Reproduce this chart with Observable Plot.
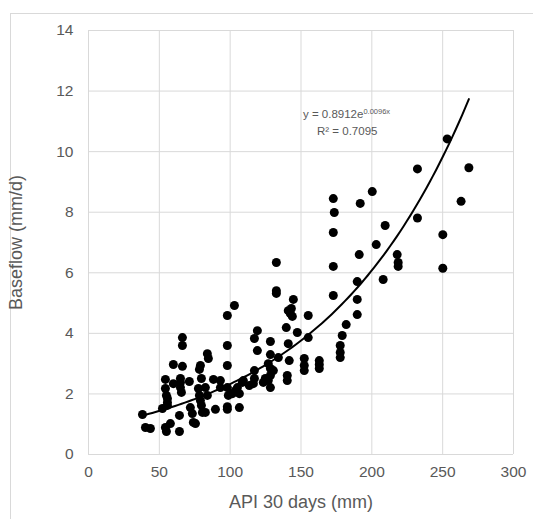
<!DOCTYPE html>
<html>
<head>
<meta charset="utf-8">
<script src="https://cdn.jsdelivr.net/npm/d3@7"></script>
<script src="https://cdn.jsdelivr.net/npm/@observablehq/plot@0.6"></script>
<style>
  html, body { margin: 0; padding: 0; background: #fff; }
  #wrap { position: relative; width: 533px; height: 519px; overflow: hidden; }
  #border { position: absolute; left: 10px; top: 13px; width: 600px; height: 600px;
            border-left: 1px solid #d9d9d9; border-top: 1px solid #d9d9d9; }
  #chart { position: absolute; left: 0; top: 0; }
</style>
</head>
<body>
<div id="wrap"><div id="border"></div><div id="chart"></div></div>
<script>
// API 30 days (mm)
const api = [
  38.1, 40.2, 43.7, 54.3, 55.0, 57.8, 64.2, 64.2, 52.2, 55.0,
  55.7, 55.7, 55.7, 54.3, 54.3, 59.9, 59.9, 66.3, 64.9, 64.9,
  64.9, 65.6, 71.2, 66.3, 66.3, 73.3, 74.0, 75.5, 71.9, 79.7,
  78.3, 79.0, 83.9, 84.6, 77.6, 78.3, 79.0, 79.7, 80.4, 82.5,
  83.9, 88.2, 89.6, 82.5, 98.0, 98.0, 106.5, 93.1, 93.1, 98.0,
  103.0, 98.0, 98.0, 98.0, 98.7, 101.6, 103.7, 105.1, 106.5, 108.6,
  109.3, 113.5, 116.4, 117.1, 117.1, 119.2, 117.1, 119.2, 123.4, 124.8,
  128.4, 128.4, 126.9, 128.4, 128.4, 128.4, 126.9, 132.6, 132.6, 134.0,
  130.5, 139.6, 141.0, 141.7, 140.3, 140.3, 141.0, 142.5, 143.9, 143.2,
  144.6, 147.4, 155.1, 155.1, 152.3, 152.3, 152.3, 162.9, 162.9, 162.9,
  172.8, 177.7, 177.7, 177.7, 132.6, 172.8, 173.5, 172.8, 172.8, 179.1,
  181.9, 189.7, 189.7, 189.7, 191.1, 191.8, 200.3, 203.1, 208.0, 209.4,
  217.9, 218.6, 218.6, 253.2, 232.2, 268.5, 263.0, 232.2, 250.1, 250.1
];
// Baseflow (mm/d)
const baseflow = [
  1.32, 0.89, 0.86, 0.89, 0.76, 1.02, 0.76, 1.29, 1.52, 1.95,
  1.85, 1.72, 1.62, 2.18, 2.48, 2.34, 2.97, 2.91, 2.51, 2.38,
  2.21, 2.05, 2.41, 3.60, 3.86, 1.35, 1.06, 1.02, 1.55, 2.51,
  2.81, 2.94, 3.33, 3.17, 2.18, 1.95, 1.78, 1.62, 1.39, 2.21,
  1.95, 2.48, 1.49, 1.39, 1.49, 1.58, 1.55, 2.44, 2.21, 4.59,
  4.92, 3.60, 2.94, 2.21, 1.95, 2.01, 2.11, 2.21, 2.01, 2.38,
  2.44, 2.28, 2.34, 2.77, 2.51, 4.09, 3.83, 3.43, 2.38, 2.51,
  3.73, 3.30, 3.00, 2.84, 2.61, 2.21, 2.44, 5.41, 5.32, 3.20,
  2.77, 4.19, 3.66, 3.10, 2.61, 2.44, 4.75, 4.65, 4.56, 4.82,
  5.12, 4.03, 4.59, 3.86, 3.17, 2.94, 2.77, 3.10, 2.97, 2.84,
  5.25, 3.60, 3.37, 3.20, 6.34, 8.45, 7.99, 7.33, 6.21, 3.93,
  4.29, 4.62, 5.12, 5.71, 6.60, 8.29, 8.68, 6.93, 5.78, 7.56,
  6.60, 6.34, 6.21, 10.42, 9.43, 9.47, 8.36, 7.81, 7.26, 6.15
];
// Trendline equation shown on chart: y = 0.8912 e^(0.0096x), R² = 0.7095
const fitA = 0.8912;
const fitB = 0.0096;
const fitR2 = "0.7095";
const xTicks = [0, 50, 100, 150, 200, 250, 300];
const yTicks = [0, 2, 4, 6, 8, 10, 12, 14];

const points = api.map((x, i) => ({x, y: baseflow[i]}));
const [xMin, xMax] = d3.extent(api);
const curve = d3.range(0, 101).map(i => {
  const x = xMin + (xMax - xMin) * i / 100;
  return {x, y: fitA * Math.exp(fitB * x)};
});

const eqLabel = [{x: 151.4, y: 11.24, t: "y = " + fitA + "e"}];
const r2Label = [{x: 161.3, y: 10.66, t: "R\u00b2 = " + fitR2}];

const grey = "#595959";
const chart = Plot.plot({
  width: 533,
  height: 519,
  marginLeft: 88,
  marginRight: 20,
  marginTop: 30,
  marginBottom: 65,
  style: {fontFamily: "'Liberation Sans', Arial, sans-serif", background: "transparent", color: grey},
  x: {domain: [0, 300]},
  y: {domain: [0, 14]},
  marks: [
    Plot.gridX(xTicks, {stroke: "#d9d9d9", strokeOpacity: 1, strokeWidth: 1}),
    Plot.gridY(yTicks, {stroke: "#d9d9d9", strokeOpacity: 1, strokeWidth: 1}),
    Plot.axisX(xTicks, {tickSize: 0, tickPadding: 11, fontSize: 15.5, fill: grey,
      label: "API 30 days (mm)", labelAnchor: "center", labelArrow: "none", labelOffset: 53}),
    Plot.axisY(yTicks, {tickSize: 0, tickPadding: 15, fontSize: 15.5, fill: grey,
      label: "Baseflow (mm/d)", labelAnchor: "center", labelArrow: "none", labelOffset: 79}),
    Plot.dot(points, {x: "x", y: "y", r: 4.5, fill: "black", stroke: "none"}),
    Plot.line(curve, {x: "x", y: "y", stroke: "black", strokeWidth: 2}),
    Plot.text(eqLabel, {x: "x", y: "y", text: "t", textAnchor: "start", fontSize: 11.5, fill: grey, className: "eq"}),
    Plot.text(r2Label, {x: "x", y: "y", text: "t", textAnchor: "start", fontSize: 11.5, fill: grey})
  ]
});
// superscript exponent on the equation label
d3.select(chart).selectAll(".eq text").each(function() {
  d3.select(this).append("tspan").attr("font-size", 7.5).attr("dy", "-0.5em").text(String(fitB) + "x");
});
d3.select(chart).selectAll("[aria-label='x-axis label'] text, [aria-label='y-axis label'] text").attr("font-size", 18);
document.getElementById("chart").appendChild(chart);
</script>
</body>
</html>
